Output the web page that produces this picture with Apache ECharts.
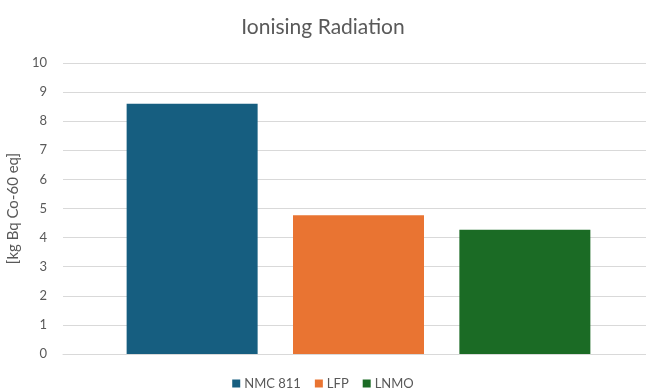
<!DOCTYPE html>
<html>
<head>
<meta charset="utf-8">
<script src="https://cdn.jsdelivr.net/npm/echarts@6/dist/echarts.min.js"></script>
<style>
  html, body { margin: 0; padding: 0; background: #fff; }
  #chart { width: 646px; height: 392px; }
</style>
</head>
<body>
<div id="chart"></div>
<script>
// Ionising radiation impact per battery chemistry
const categories = ['Ionising Radiation'];
const seriesNames = ['NMC 811', 'LFP', 'LNMO'];
const seriesValues = [8.6, 4.77, 4.27];
const seriesColors = ['#165e80', '#e97432', '#1b6b25'];
const yTicks = [0, 1, 2, 3, 4, 5, 6, 7, 8, 9, 10];

const textColor = '#595959';
const fontFamily = 'Lato, "Open Sans", sans-serif';

const chart = echarts.init(document.getElementById('chart'));
chart.setOption({
  animation: false,
  textStyle: { fontFamily: fontFamily },
  title: {
    text: 'Ionising Radiation',
    left: 'center',
    top: 12,
    textStyle: { color: textColor, fontSize: 21, fontWeight: 'normal', fontFamily: fontFamily }
  },
  legend: {
    bottom: -3,
    left: 'center',
    itemWidth: 8,
    itemHeight: 8,
    itemGap: 14,
    icon: 'rect',
    data: seriesNames,
    textStyle: { color: textColor, fontSize: 13, padding: [0, 0, 0, -1] }
  },
  grid: { left: 63, right: -8, top: 63, bottom: 38, containLabel: false, outerBoundsMode: 'none' },
  xAxis: {
    type: 'category',
    data: categories,
    axisLine: { show: true, lineStyle: { color: '#d9d9d9' } },
    axisTick: { show: false },
    axisLabel: { show: false }
  },
  yAxis: {
    type: 'value',
    min: yTicks[0],
    max: yTicks[yTicks.length - 1],
    interval: 1,
    name: '[kg Bq Co-60 eq]',
    nameLocation: 'middle',
    nameGap: 27,
    nameTextStyle: { color: textColor, fontSize: 15 },
    axisLine: { show: false },
    axisTick: { show: false },
    axisLabel: { color: textColor, fontSize: 13, margin: 16 },
    splitLine: { lineStyle: { color: '#d9d9d9', width: 1 } }
  },
  series: seriesNames.map((name, i) => ({
    name: name,
    type: 'bar',
    data: [seriesValues[i]],
    barWidth: 131,
    barGap: '27%',
    itemStyle: { color: seriesColors[i] }
  }))
});
</script>
</body>
</html>
